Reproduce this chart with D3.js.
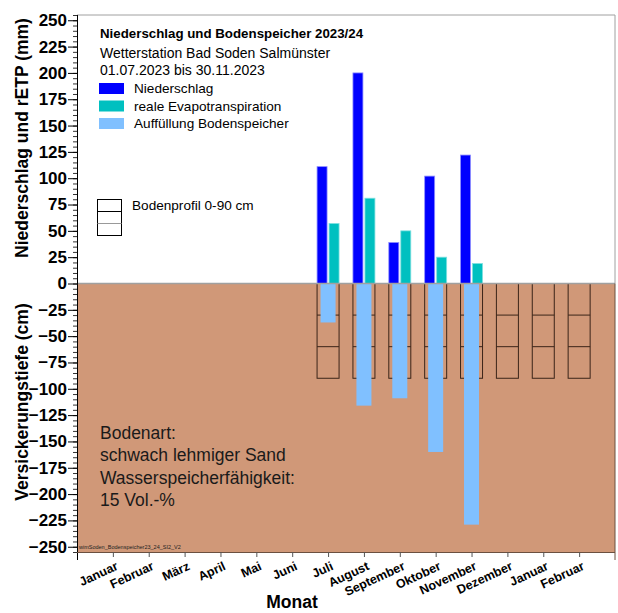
<!DOCTYPE html>
<html>
<head>
<meta charset="utf-8">
<script src="https://cdn.jsdelivr.net/npm/d3@7"></script>
<style>
  body { margin: 0; background: #fff; }
  svg { display: block; font-family: "Liberation Sans", Arial, sans-serif; }
</style>
</head>
<body>
<svg id="chart" width="618" height="613"></svg>
<script>
// monatswerte, index = position auf der x-achse
const months = ['Januar', 'Februar', 'März', 'April', 'Mai', 'Juni', 'Juli',
                'August', 'September', 'Oktober', 'November', 'Dezember', 'Januar', 'Februar']
const niederschlag = [null, null, null, null, null, null, 111, 200, 39, 102, 122, null, null, null]
const etp          = [null, null, null, null, null, null, 57, 81, 50, 25, 19, null, null, null]
const auffuellung  = [null, null, null, null, null, null, -37, -116, -109, -160, -229, null, null, null]
const profilMonths = [6, 7, 8, 9, 10, 11, 12, 13]
const profilDepths = [0, -30, -60, -90]
const yTicks = d3.range(-250, 251, 25)
const yMinor = d3.range(-255, 256, 5)

const colors = {
    nieder: '#0000ff',
    etp: '#00c0c0',
    auff: '#80c0ff',
    soil: '#d09878'
}

const svg = d3.select('#chart')
const plotLeft = 77, plotRight = 615, plotTop = 15, plotBottom = 552

const x = d3.scaleLinear().domain([-1, 14]).range([plotLeft, plotRight])
const y = d3.scaleLinear().domain([-255, 255]).range([plotBottom, plotTop])

// hintergrund unterhalb der nulllinie
svg.append('rect')
    .attr('x', plotLeft).attr('y', y(0))
    .attr('width', plotRight - plotLeft).attr('height', plotBottom - y(0))
    .attr('fill', colors.soil)

// bodenprofil kästen
const profil = svg.append('g')
profilMonths.forEach(i => {
    profil.append('rect')
        .attr('x', x(i) - 11).attr('y', y(0))
        .attr('width', 22).attr('height', y(-90) - y(0))
        .attr('fill', 'none').attr('stroke', '#3a2418').attr('stroke-width', 1)
    profilDepths.slice(1, 3).forEach(d => {
        profil.append('line')
            .attr('x1', x(i) - 11).attr('x2', x(i) + 11)
            .attr('y1', y(d)).attr('y2', y(d))
            .attr('stroke', '#3a2418')
    })
})

const idx = d3.range(months.length)

svg.append('g').selectAll('rect')
    .data(idx.filter(i => auffuellung[i] !== null))
    .join('rect')
    .attr('x', i => x(i) - 7.5).attr('width', 15)
    .attr('y', y(0)).attr('height', i => y(auffuellung[i]) - y(0))
    .attr('fill', colors.auff)

svg.append('g').selectAll('rect')
    .data(idx.filter(i => niederschlag[i] !== null))
    .join('rect')
    .attr('x', i => x(i) - 11).attr('width', 10)
    .attr('y', i => y(niederschlag[i])).attr('height', i => y(0) - y(niederschlag[i]))
    .attr('fill', colors.nieder).attr('stroke', '#9090ff').attr('stroke-width', 0.8)

svg.append('g').selectAll('rect')
    .data(idx.filter(i => etp[i] !== null))
    .join('rect')
    .attr('x', i => x(i) + 1).attr('width', 10)
    .attr('y', i => y(etp[i])).attr('height', i => y(0) - y(etp[i]))
    .attr('fill', colors.etp).attr('stroke', '#80e0e0').attr('stroke-width', 0.8)

// nulllinie und rahmen
svg.append('line')
    .attr('x1', plotLeft).attr('x2', plotRight).attr('y1', y(0)).attr('y2', y(0))
    .attr('stroke', '#a0a0a0').attr('stroke-width', 1.5)
svg.append('line')
    .attr('x1', plotLeft).attr('x2', plotRight).attr('y1', plotTop).attr('y2', plotTop)
    .attr('stroke', '#a0a0a0')
svg.append('line')
    .attr('x1', plotRight).attr('x2', plotRight).attr('y1', plotTop).attr('y2', y(0))
    .attr('stroke', '#a0a0a0')
svg.append('line')
    .attr('x1', plotRight).attr('x2', plotRight).attr('y1', y(0)).attr('y2', plotBottom + 8)
    .attr('stroke', '#6b5040')

// y-achse
const yMinorAxis = svg.append('g')
    .attr('transform', `translate(${plotLeft},0)`)
    .call(d3.axisLeft(y).tickValues(yMinor).tickSize(4).tickFormat(''))
yMinorAxis.select('.domain').remove()
yMinorAxis.selectAll('line').attr('stroke', '#333')

const yAxis = svg.append('g')
    .attr('transform', `translate(${plotLeft},0)`)
    .call(d3.axisLeft(y).tickValues(yTicks).tickSize(9).tickPadding(1).tickSizeOuter(0))
yAxis.select('.domain').attr('d', `M0.5,${plotTop}V${plotBottom + 8}`).attr('stroke', '#000')
yAxis.selectAll('text')
    .attr('font-size', 17).attr('font-weight', 'bold')
    .attr('font-family', '"Liberation Sans", Arial, sans-serif').attr('fill', '#000')

// x-achse
const xAxis = svg.append('g')
    .attr('transform', `translate(0,${plotBottom})`)
    .call(d3.axisBottom(x).tickValues(idx).tickSize(5).tickFormat('').tickSizeOuter(0))
xAxis.select('.domain').attr('d', `M${plotLeft},0.5H${plotRight}`).attr('stroke', '#6b5040')
xAxis.selectAll('line').attr('stroke', '#555')

svg.append('g').selectAll('text')
    .data(idx)
    .join('text')
    .attr('transform', i => `translate(${x(i) + 6},${plotBottom + 17}) rotate(-25)`)
    .attr('text-anchor', 'end')
    .attr('font-size', 12.5).attr('font-weight', 'bold')
    .text(i => months[i])

svg.append('text')
    .attr('x', 292).attr('y', 608)
    .attr('text-anchor', 'middle')
    .attr('font-size', 17.5).attr('font-weight', 'bold')
    .text('Monat')

svg.append('text')
    .attr('transform', 'translate(28,138) rotate(-90)')
    .attr('text-anchor', 'middle')
    .attr('font-size', 17.5).attr('font-weight', 'bold')
    .text('Niederschlag und rETP (mm)')

svg.append('text')
    .attr('transform', 'translate(28,402) rotate(-90)')
    .attr('text-anchor', 'middle')
    .attr('font-size', 17.5).attr('font-weight', 'bold')
    .text('Versickerungstiefe (cm)')

// legende
const legend = svg.append('g')
legend.append('text').attr('x', 100).attr('y', 38)
    .attr('font-size', 13.3).attr('font-weight', 'bold')
    .text('Niederschlag und Bodenspeicher 2023/24')
legend.append('text').attr('x', 100).attr('y', 58).attr('font-size', 14)
    .text('Wetterstation Bad Soden Salmünster')
legend.append('text').attr('x', 100).attr('y', 75).attr('font-size', 14)
    .text('01.07.2023 bis 30.11.2023')

const legendItems = [
    ['Niederschlag', colors.nieder],
    ['reale Evapotranspiration', colors.etp],
    ['Auffüllung Bodenspeicher', colors.auff]
]
legendItems.forEach(([label, color], k) => {
    legend.append('rect')
        .attr('x', 99).attr('y', 83 + k * 17.5)
        .attr('width', 25).attr('height', 11)
        .attr('fill', color)
    legend.append('text')
        .attr('x', 134).attr('y', 93 + k * 17.5)
        .attr('font-size', 13.6)
        .text(label)
})

legend.append('rect')
    .attr('x', 97.5).attr('y', 199.5).attr('width', 24).attr('height', 36)
    .attr('fill', 'none').attr('stroke', '#000')
legend.append('line').attr('x1', 97.5).attr('x2', 121.5).attr('y1', 211.5).attr('y2', 211.5)
    .attr('stroke', '#000')
legend.append('line').attr('x1', 97.5).attr('x2', 121.5).attr('y1', 223.5).attr('y2', 223.5)
    .attr('stroke', '#999')
legend.append('text').attr('x', 132).attr('y', 210).attr('font-size', 13.6)
    .text('Bodenprofil 0-90 cm')

// bodenart text
const soilText = ['Bodenart:', 'schwach lehmiger Sand', 'Wasserspeicherfähigkeit:', '15 Vol.-%']
svg.append('g').selectAll('text')
    .data(soilText)
    .join('text')
    .attr('x', 100).attr('y', (d, k) => 439 + k * 22.3)
    .attr('font-size', 17.5).attr('fill', '#1a1a1a')
    .text(d => d)

svg.append('text')
    .attr('x', 79).attr('y', 549)
    .attr('font-size', 5.5).attr('fill', '#222')
    .text('wimSoden_Bodenspeicher23_24_SI2_V2')
</script>
</body>
</html>
